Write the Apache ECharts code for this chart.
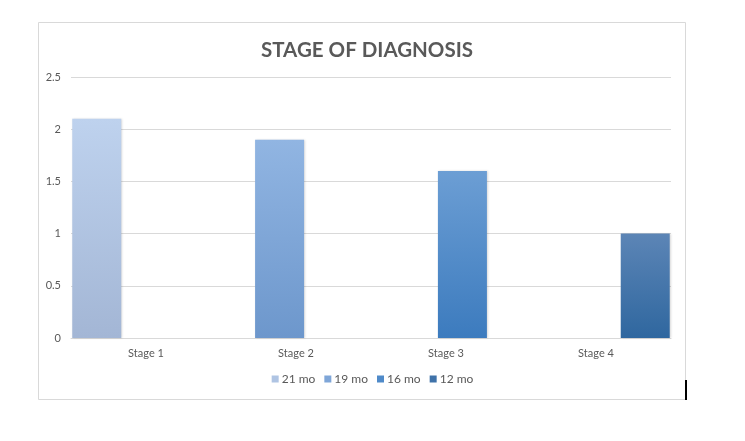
<!DOCTYPE html>
<html>
<head>
<meta charset="utf-8">
<script src="https://cdn.jsdelivr.net/npm/echarts@6/dist/echarts.min.js"></script>
<style>
  html, body { margin: 0; padding: 0; background: #fff; }
  #chart-container { width: 745px; height: 441px; }
</style>
</head>
<body>
<div id="chart-container"></div>
<script>
var categories = ["Stage 1", "Stage 2", "Stage 3", "Stage 4"];
var seriesNames = ["21 mo", "19 mo", "16 mo", "12 mo"];
var mo21 = [2.1, "-", "-", "-"];
var mo19 = ["-", 1.9, "-", "-"];
var mo16 = ["-", "-", 1.6, "-"];
var mo12 = ["-", "-", "-", 1.0];
var yTicks = [0, 0.5, 1, 1.5, 2, 2.5];

// top / bottom colour of each bar gradient
var barColors = [
  ["#BED2EE", "#A3B6D5"],
  ["#91B5E2", "#6D97CC"],
  ["#6C9ED4", "#3C7BBE"],
  ["#5C85B6", "#2F679F"],
];
var legendColors = ["#AFC4E3", "#7FA6D8", "#4F8AC9", "#3F72A9"];

var font = "Lato, 'Open Sans', sans-serif";

function grad(c) {
  return new echarts.graphic.LinearGradient(0, 0, 0, 1, [
    { offset: 0, color: c[0] },
    { offset: 1, color: c[1] },
  ]);
}

var allData = [mo21, mo19, mo16, mo12];

var dom = document.getElementById("chart-container");
var myChart = echarts.init(dom, null, { renderer: "canvas" });

var option = {
  animation: false,
  backgroundColor: "#fff",
  graphic: [
    {
      type: "rect",
      shape: { x: 38.5, y: 22.5, width: 647, height: 377 },
      style: { fill: "none", stroke: "#D9D9D9", lineWidth: 1 },
      silent: true,
    },
    {
      type: "rect",
      shape: { x: 685, y: 380, width: 2, height: 20 },
      style: { fill: "#000" },
      silent: true,
    },
  ],
  title: {
    text: "STAGE OF DIAGNOSIS",
    left: 362,
    textAlign: "center",
    top: 35,
    textStyle: {
      fontFamily: font,
      fontSize: 20.5,
      fontWeight: "bold",
      color: "#595959",
    },
  },
  legend: {
    data: seriesNames.map(function (n, i) {
      return { name: n, itemStyle: { color: legendColors[i] } };
    }),
    bottom: 51,
    left: "center",
    itemWidth: 7,
    itemHeight: 7,
    itemGap: 9,
    icon: "rect",
    textStyle: { fontFamily: font, fontSize: 12, color: "#595959", padding: [0, 0, 0, -2] },
  },
  grid: {
    left: 71,
    right: 74,
    top: 77,
    bottom: 103,
  },
  xAxis: {
    type: "category",
    data: categories,
    axisLine: { lineStyle: { color: "#D9D9D9" } },
    axisTick: { show: false },
    axisLabel: { fontFamily: font, fontSize: 11, color: "#595959", margin: 10 },
  },
  yAxis: {
    type: "value",
    min: yTicks[0],
    max: yTicks[yTicks.length - 1],
    interval: 0.5,
    axisLine: { show: false },
    axisTick: { show: false },
    splitLine: { lineStyle: { color: "#D9D9D9" } },
    axisLabel: { fontFamily: font, fontSize: 11, color: "#595959", margin: 10 },
  },
  series: allData.map(function (d, i) {
    return {
      name: seriesNames[i],
      type: "bar",
      data: d,
      barWidth: 49,
      barGap: "-33%",
      itemStyle: {
        color: grad(barColors[i]),
        shadowColor: "rgba(0,0,0,0.15)",
        shadowBlur: 2,
        shadowOffsetX: 1,
      },
    };
  }),
};

myChart.setOption(option);
window.addEventListener("resize", myChart.resize);
</script>
</body>
</html>
